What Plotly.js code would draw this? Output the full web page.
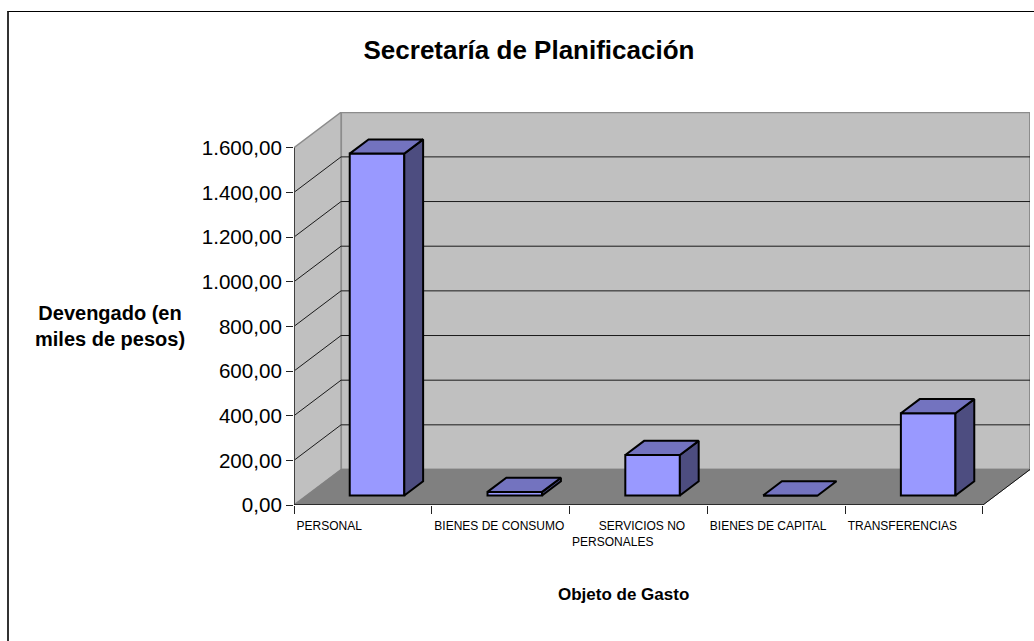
<!DOCTYPE html>
<html>
<head>
<meta charset="utf-8">
<script src="https://cdn.plot.ly/plotly-3.0.1.min.js"></script>
<style>
html,body{margin:0;padding:0;background:#fff;overflow:hidden}
#chart{position:absolute;left:0;top:0;width:1034px;height:641px}
#frame{position:absolute;left:7px;top:11px;right:-5px;bottom:-5px;border-left:2px solid #333;border-top:1px solid #000}
</style>
</head>
<body>
<div id="frame"></div>
<div id="chart"></div>
<script>
const categories = ['PERSONAL','BIENES DE CONSUMO','\u00A0\u00A0\u00A0\u00A0\u00A0\u00A0\u00A0\u00A0SERVICIOS NO<br>PERSONALES','BIENES DE CAPITAL','TRANSFERENCIAS'];
const devengado = [1531, 16, 181, 0, 368];
const yTicks = [0,200,400,600,800,1000,1200,1400,1600];
const yTickText = ['0,00','200,00','400,00','600,00','800,00','1.000,00','1.200,00','1.400,00','1.600,00'];

// oblique projection of the pseudo-3D box, expressed in axis units
const DX = 47/137.6, DY = 159;
const P = (u,v,d) => [u+d*DX, v+d*DY];
const front = 0.3, back = 0.7, halfW = 0.198, lift = -5;
const FONT = 'Liberation Sans, Arial, sans-serif';

function poly(pts, fill, line, lw){
  const xs=[], ys=[];
  pts.forEach(p=>{xs.push(p[0]);ys.push(p[1]);});
  xs.push(xs[0]); ys.push(ys[0]);
  return {type:'scatter',mode:'lines',x:xs,y:ys,fill:'toself',fillcolor:fill,
    line:{color:line,width:lw,simplify:false},hoverinfo:'skip',showlegend:false,cliponaxis:false};
}
function path(xs,ys,color,w){
  return {type:'scatter',mode:'lines',x:xs,y:ys,line:{color:color,width:w},
    hoverinfo:'skip',showlegend:false,cliponaxis:false};
}
function shapePoly(pts, fill, line, lw){
  const d = pts.map((p,i)=>(i?'L':'M')+p[0]+','+p[1]).join(' ')+' Z';
  return {type:'path',path:d,xref:'x',yref:'y',layer:'below',fillcolor:fill,line:{color:line,width:lw}};
}
const N = categories.length, vMax = yTicks[yTicks.length-1];
const shapes = [];
shapes.push(shapePoly([P(0,0,1),P(N,0,1),P(N,vMax,1),P(0,vMax,1)],'#C0C0C0','#8c8c8c',2));
shapes.push(shapePoly([P(0,0,0),P(0,0,1),P(0,vMax,1),P(0,vMax,0)],'#C0C0C0','#8c8c8c',1.5));
shapes.push(shapePoly([P(0,0,0),P(N,0,0),P(N,0,1),P(0,0,1)],'#808080','#808080',1));
yTicks.slice(1,-1).forEach(v=>{
  const a=P(0,v,0), b=P(0,v,1), c=P(N,v,1);
  shapes.push({type:'path',path:`M${a[0]},${a[1]} L${b[0]},${b[1]} L${c[0]},${c[1]}`,xref:'x',yref:'y',
    layer:'below',line:{color:'#1a1a1a',width:1}});
});

const traces = [];
// bar front faces (drawn first by the library: bars sit under the scatter faces)
traces.push({type:'bar',x:categories.map((_,i)=>P(i+0.5,0,front)[0]),
  y:devengado,base:categories.map(()=>P(0,lift,front)[1]),
  width:halfW*2,marker:{color:'#9999FF',line:{color:'#000',width:2}},
  hoverinfo:'skip',showlegend:false,cliponaxis:false});
// axis lines
traces.push(path([0,0],[0,vMax],'#404040',2));
traces.push(path([0,N],[0,0],'#111111',1.5));
const fr=P(N,0,1);
traces.push(path([N,fr[0]],[0,fr[1]],'#111111',1));
// bar side and top faces
devengado.forEach((v,i)=>{
  const c=i+0.5, l=c-halfW, r=c+halfW, b=lift, t=lift+v;
  if(v>0) traces.push(poly([P(r,b,front),P(r,b,back),P(r,t,back),P(r,t,front)],'#4D4D80','#000',2));
  traces.push(poly([P(l,t,front),P(r,t,front),P(r,t,back),P(l,t,back)],'#7373BF','#000',2));
});

const layout = {
  width:1034,height:641,
  margin:{l:294,r:4,t:112,b:136,pad:0},
  paper_bgcolor:'rgba(0,0,0,0)',plot_bgcolor:'rgba(0,0,0,0)',
  showlegend:false,shapes:shapes,
  font:{family:FONT,color:'#000'},
  title:{text:'<b>Secretaría de Planificación</b>',font:{size:26,family:FONT,color:'#000'},
    x:529/1034,xanchor:'center',y:1-50/641,yanchor:'middle'},
  xaxis:{range:[0,N+DX],tickmode:'array',tickvals:[0,1,2,3,4,5],ticktext:categories.concat(['']),
    ticklabelposition:'outside right',ticklabelstandoff:10,ticklabelshift:2,ticks:'outside',ticklen:8,tickwidth:1,tickcolor:'#222',
    showgrid:false,zeroline:false,showline:false,tickfont:{size:12,family:FONT,color:'#000'},fixedrange:true},
  yaxis:{range:[0,1760],tickmode:'array',tickvals:yTicks,ticktext:yTickText,
    ticks:'outside',ticklen:7,tickwidth:1,tickcolor:'#222',
    showgrid:false,zeroline:false,showline:false,tickfont:{size:20.6,family:FONT,color:'#000'},fixedrange:true},
  annotations:[
    {text:'<b>Devengado (en<br>miles de pesos)</b>',xref:'paper',yref:'paper',
     x:(110-294)/736,y:(505-326)/393,xanchor:'center',yanchor:'middle',showarrow:false,
     font:{size:20,family:FONT,color:'#000'}},
    {text:'<b>Objeto de Gasto</b>',xref:'paper',yref:'paper',
     x:(623.5-294)/736,y:(505-594)/393,xanchor:'center',yanchor:'middle',showarrow:false,
     font:{size:17,family:FONT,color:'#000'}}
  ]
};
Plotly.newPlot('chart',traces,layout,{displayModeBar:false,staticPlot:true});
</script>
</body>
</html>
